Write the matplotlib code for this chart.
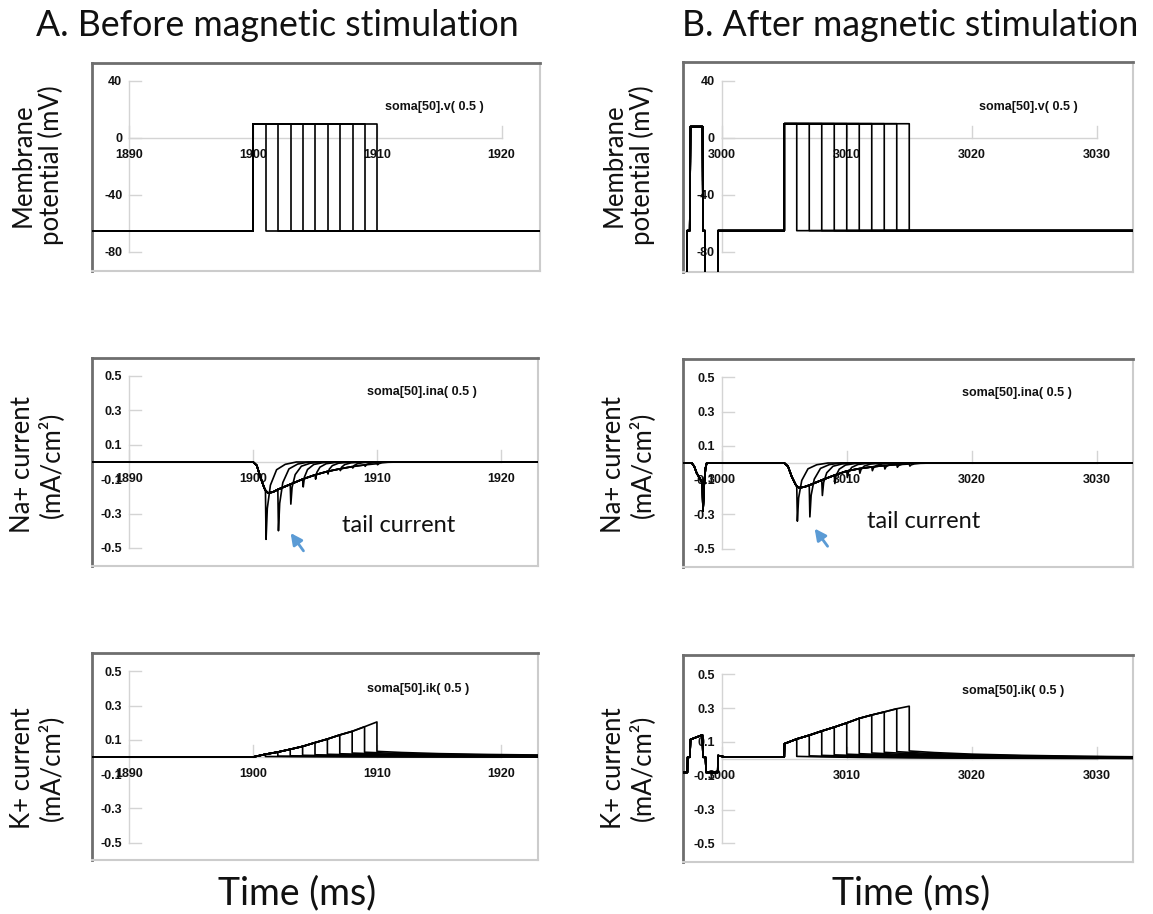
import matplotlib
matplotlib.use("Agg")
import matplotlib.pyplot as plt
import numpy as np

W, H = 1153, 914

# ---- membrane potential (mV) ----
v_rest = -65.0
v_pulse = 10.0
pulse_ms = [1, 2, 3, 4, 5, 6, 7, 8, 9, 10]
a_onset = 1900.0
b_onset = 3005.0

# magnetic-stimulation artifact in B (time, mV); values below frame are clipped
b_art_t = [2996.5, 2997.22, 2997.23, 2997.44, 2997.5, 2998.46, 2998.5, 2998.66, 2998.68, 2999.68, 2999.7]
b_art_v = [-120, -120, -65, -65, 8, 8, -65, -65, -120, -120, -65]

# ---- Na+ current (mA/cm2) ----
a_na_env_t = [1900, 1900.3, 1900.6, 1900.9, 1901, 1901.2, 1901.6, 1902, 1903, 1904, 1905,
              1906, 1907, 1908, 1909, 1910, 1911, 1912]
a_na_env_v = [0, -0.02, -0.09, -0.15, -0.165, -0.18, -0.175, -0.16, -0.13, -0.10, -0.075,
              -0.055, -0.04, -0.027, -0.017, -0.01, -0.004, 0]
a_na_tail = [-0.45, -0.40, -0.245, -0.145, -0.10, -0.07, -0.05, -0.035, -0.025, -0.016]

b_na_env_t = [3005, 3005.3, 3005.6, 3005.9, 3006, 3006.2, 3006.6, 3007, 3008, 3009, 3010,
              3011, 3012, 3013, 3014, 3015, 3016, 3017]
b_na_env_v = [0, -0.02, -0.08, -0.125, -0.135, -0.145, -0.14, -0.13, -0.10, -0.072, -0.047,
              -0.033, -0.023, -0.015, -0.01, -0.006, -0.002, 0]
b_na_tail = [-0.34, -0.315, -0.19, -0.12, -0.085, -0.06, -0.045, -0.035, -0.025, -0.018]
b_na_art_t = [2996.5, 2997.6, 2997.8, 2998.0, 2998.25, 2998.45, 2998.5, 2998.6, 2998.7, 2998.8]
b_na_art_v = [0, 0, -0.02, -0.06, -0.09, -0.12, -0.28, -0.12, -0.03, 0]

# shape of a tail current (ms after pulse end, fraction of peak)
na_tail_dt = [0.05, 0.15, 0.4, 0.9, 1.6, 2.5]
na_tail_frac = [1.0, 0.6, 0.3, 0.1, 0.03, 0.0]

# ---- K+ current (mA/cm2) ----
a_k_env_t = [1900, 1901, 1902, 1903, 1904, 1905, 1906, 1907, 1908, 1909, 1910]
a_k_env_v = [0, 0.016, 0.029, 0.045, 0.062, 0.084, 0.105, 0.129, 0.150, 0.177, 0.205]
a_k_after = [0.003, 0.005, 0.007, 0.010, 0.013, 0.016, 0.019, 0.023, 0.028, 0.033]

b_k_env_t = [3005, 3005.02, 3006, 3007, 3008, 3009, 3010, 3011, 3012, 3013, 3014, 3015]
b_k_env_v = [0.012, 0.09, 0.118, 0.14, 0.165, 0.188, 0.213, 0.24, 0.26, 0.278, 0.297, 0.312]
b_k_after = [0.015, 0.018, 0.021, 0.024, 0.028, 0.031, 0.035, 0.039, 0.043, 0.047]
b_k_art_t = [2996.5, 2997.25, 2997.27, 2997.45, 2997.5, 2998.45, 2998.5, 2998.7, 2998.75,
             2999.68, 2999.7, 3000.2]
b_k_art_v = [-0.08, -0.08, 0.01, 0.01, 0.115, 0.142, 0.01, 0.01, -0.08, -0.08, 0.02, 0.012]

k_decay_dt = [2, 5, 9, 14, 20, 30]
k_decay_frac = [0.8, 0.6, 0.45, 0.33, 0.24, 0.16]

plt.rcParams["font.family"] = ["Lato", "DejaVu Sans"]
TICK_FONT = dict(family="Liberation Sans", fontweight="bold", fontsize=9, color="#111111")
LINE = dict(color="black", lw=1.2, zorder=3)


def add_panel(box, xlim, ylim):
    l, t, r, b = box
    ax = fig.add_axes([l / W, 1 - b / H, (r - l) / W, (b - t) / H])
    ax.set_xlim(*xlim)
    ax.set_ylim(*ylim)
    ax.set_xticks([])
    ax.set_yticks([])
    for s in ["left", "top"]:
        ax.spines[s].set_color("#6e6e6e")
        ax.spines[s].set_linewidth(2)
    for s in ["right", "bottom"]:
        ax.spines[s].set_color("#cccccc")
        ax.spines[s].set_linewidth(1.5)
    return ax


def inner_axes(ax, x0, xticks, yticks, box):
    l, t, r, b = box
    x_span = ax.get_xlim()[1] - ax.get_xlim()[0]
    y_span = ax.get_ylim()[1] - ax.get_ylim()[0]
    tick_x = 12 / (r - l) * x_span
    tick_y = 12 / (b - t) * y_span
    gray = dict(color="#d4d4d4", lw=1, zorder=1)
    ax.plot([x0, x0], [min(yticks), max(yticks)], **gray)
    ax.plot([x0, max(xticks)], [0, 0], **gray)
    for yv in yticks:
        ax.plot([x0, x0 + tick_x], [yv, yv], **gray)
        lab = f"{yv:g}"
        ax.annotate(lab, xy=(x0, yv), xytext=(-5, -1), textcoords="offset points",
                    ha="right", va="center", **TICK_FONT)
    for xv in xticks:
        ax.plot([xv, xv], [0, tick_y], **gray)
        ax.annotate(f"{xv:g}", xy=(xv, 0), xytext=(0, -12), textcoords="offset points",
                    ha="center", va="center", **TICK_FONT)


def v_traces(ax, onset, xlim, pre_t=None, pre_v=None):
    for d in pulse_ms:
        t = [xlim[0], onset, onset, onset + d, onset + d, xlim[1] + 1]
        v = [v_rest, v_rest, v_pulse, v_pulse, v_rest, v_rest]
        if pre_t is not None:
            t = list(pre_t) + t[1:]
            v = list(pre_v) + v[1:]
        ax.plot(t, v, **LINE)


def na_traces(ax, onset, env_t, env_v, tails, xlim, pre_t=None, pre_v=None):
    for d, depth in zip(pulse_ms, tails):
        te = onset + d
        t = [xlim[0]] + [x for x in env_t if x <= te]
        v = [0.0] + [y for x, y in zip(env_t, env_v) if x <= te]
        t += [te + dt for dt in na_tail_dt] + [xlim[1] + 1]
        v += [depth * f for f in na_tail_frac] + [0.0]
        if pre_t is not None:
            t = list(pre_t) + t[1:]
            v = list(pre_v) + v[1:]
        ax.plot(t, v, **LINE)


def k_traces(ax, onset, env_t, env_v, after, xlim, pre_t=None, pre_v=None):
    for d, a in zip(pulse_ms, after):
        te = onset + d
        t = [xlim[0]] + [x for x in env_t if x <= te]
        v = [env_v[0]] + [y for x, y in zip(env_t, env_v) if x <= te]
        t += [te] + [te + dt for dt in k_decay_dt]
        v += [a] + [a * f for f in k_decay_frac]
        if pre_t is not None:
            t = list(pre_t) + t[1:]
            v = list(pre_v) + v[1:]
        ax.plot(t, v, **LINE)


fig = plt.figure(figsize=(W / 100, H / 100), dpi=100)

v_ticks = [40, 0, -40, -80]
i_ticks = [0.5, 0.3, 0.1, -0.1, -0.3, -0.5]
a_xticks = [1890, 1900, 1910, 1920]
b_xticks = [3000, 3010, 3020, 3030]

# ---------- A ----------
box = (92, 63, 540, 271)
xl = (1887.0, 1923.1)
ax = add_panel(box, xl, (-93.3, 52.6))
inner_axes(ax, 1890, a_xticks, v_ticks, box)
v_traces(ax, a_onset, xl)
ax.text(1910.6, 22, "soma[50].v( 0.5 )", ha="left", va="center", **TICK_FONT)

box = (92, 358, 538, 566)
xl = (1887.0, 1923.0)
ax = add_panel(box, xl, (-0.605, 0.605))
inner_axes(ax, 1890, a_xticks, i_ticks, box)
na_traces(ax, a_onset, a_na_env_t, a_na_env_v, a_na_tail, xl)
ax.text(1909.2, 0.41, "soma[50].ina( 0.5 )", ha="left", va="center", **TICK_FONT)
ax.text(1907.2, -0.37, "tail current", ha="left", va="center", fontsize=17, color="#111111")
ax.annotate("", xy=(1902.9, -0.40), xytext=(1904.2, -0.53),
            arrowprops=dict(arrowstyle="-|>", color="#5b9bd5", lw=2, mutation_scale=17))

box = (92, 653, 538, 860)
ax = add_panel(box, xl, (-0.602, 0.608))
inner_axes(ax, 1890, a_xticks, i_ticks, box)
k_traces(ax, a_onset, a_k_env_t, a_k_env_v, a_k_after, xl)
ax.text(1909.2, 0.40, "soma[50].ik( 0.5 )", ha="left", va="center", **TICK_FONT)

# ---------- B ----------
box = (683, 62, 1133, 272)
xl = (2996.9, 3032.9)
ax = add_panel(box, xl, (-94, 53.3))
inner_axes(ax, 3000, b_xticks, v_ticks, box)
v_traces(ax, b_onset, xl, b_art_t, b_art_v)
ax.text(3020.6, 22, "soma[50].v( 0.5 )", ha="left", va="center", **TICK_FONT)

box = (683, 359, 1133, 567)
ax = add_panel(box, xl, (-0.608, 0.608))
inner_axes(ax, 3000, b_xticks, i_ticks, box)
na_traces(ax, b_onset, b_na_env_t, b_na_env_v, b_na_tail, xl, b_na_art_t, b_na_art_v)
ax.text(3019.2, 0.41, "soma[50].ina( 0.5 )", ha="left", va="center", **TICK_FONT)
ax.text(3011.6, -0.34, "tail current", ha="left", va="center", fontsize=17, color="#111111")
ax.annotate("", xy=(3007.3, -0.37), xytext=(3008.6, -0.50),
            arrowprops=dict(arrowstyle="-|>", color="#5b9bd5", lw=2, mutation_scale=17))

box = (683, 655, 1133, 862)
ax = add_panel(box, xl, (-0.61, 0.615))
inner_axes(ax, 3000, b_xticks, i_ticks, box)
k_traces(ax, b_onset, b_k_env_t, b_k_env_v, b_k_after, xl, b_k_art_t, b_k_art_v)
ax.text(3019.2, 0.40, "soma[50].ik( 0.5 )", ha="left", va="center", **TICK_FONT)

# ---------- figure text ----------
def ftext(x, y, s, **kw):
    fig.text(x / W, 1 - y / H, s, ha="center", va="center", color="#111111", **kw)

ftext(277, 25, "A. Before magnetic stimulation", fontsize=25.7)
ftext(910, 25, "B. After magnetic stimulation", fontsize=25.7)
ftext(297, 893, "Time (ms)", fontsize=27)
ftext(911, 893, "Time (ms)", fontsize=27)

for xc in (37, 628):
    ftext(xc, 165, "Membrane\npotential (mV)", fontsize=18.5, rotation=90, linespacing=1.1)
    ftext(xc, 465, "Na+ current\n(mA/cm²)", fontsize=18.5, rotation=90, linespacing=1.1)
    ftext(xc, 768, "K+ current\n(mA/cm²)", fontsize=18.5, rotation=90, linespacing=1.1)

fig.savefig("out.png", dpi=100)
